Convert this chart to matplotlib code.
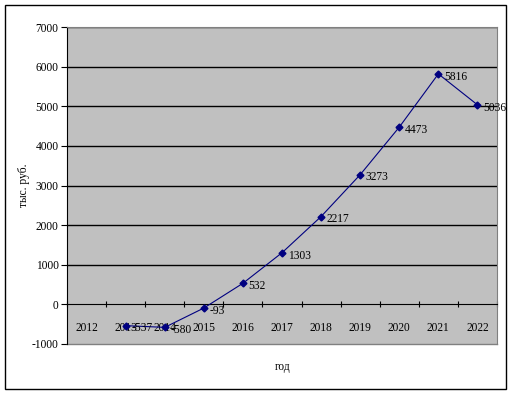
import matplotlib
matplotlib.use("Agg")
import matplotlib.pyplot as plt
from matplotlib.patches import Rectangle
import numpy as np

years = ["2012", "2013", "2014", "2015", "2016", "2017", "2018", "2019", "2020", "2021", "2022"]
values = [np.nan, -537, -580, -93, 532, 1303, 2217, 3273, 4473, 5816, 5036]
labels = ["", "-537", "-580", "-93", "532", "1303", "2217", "3273", "4473", "5816", "5036"]
yticks = [-1000, 0, 1000, 2000, 3000, 4000, 5000, 6000, 7000]

plt.rcParams['font.family'] = ['Liberation Serif', 'DejaVu Serif']
fs = 8.3

fig = plt.figure(figsize=(5.10, 3.94), dpi=100)
fig.patches.append(Rectangle((5/510, 1-389/394), 501/510, 384/394, transform=fig.transFigure,
                             fill=False, edgecolor='black', linewidth=1.0))
ax = fig.add_axes([67/510, 1-344/394, 430/510, 317/394])
ax.set_facecolor('#C0C0C0')

x = np.arange(len(years))
ax.set_xlim(-0.5, len(years) - 0.5)
ax.set_ylim(-1000, 7000)

for yv in yticks[2:]:
    ax.axhline(yv, color='black', linewidth=1.0, zorder=1)

ax.plot(x, values, color='#000080', linewidth=0.8, marker='D', markersize=3.5,
        markerfacecolor='#000080', markeredgecolor='#000080', zorder=3)
for xi, v, lab in zip(x, values, labels):
    if lab:
        ax.annotate(lab, (xi, v), xytext=(4, -2), textcoords='offset points',
                    fontsize=fs, va='center', ha='left', zorder=4)

ax.spines['bottom'].set_position(('data', 0))
ax.spines['bottom'].set_color('black')
ax.spines['left'].set_color('black')
for s in ['top', 'right']:
    ax.spines[s].set_color('#808080')

ax.set_xticks(x)
ax.set_xticklabels(years, fontsize=fs)
ax.tick_params(axis='x', which='major', length=0, pad=13)
ax.set_xticks(np.arange(-0.5, len(years)), minor=True)
ax.tick_params(axis='x', which='minor', length=4, direction='inout', width=0.8)

ax.set_yticks(yticks)
ax.set_yticklabels([str(v) for v in yticks], fontsize=fs)
ax.tick_params(axis='y', length=4, direction='out', width=0.8, pad=2)

# plot-area bottom border
ax.plot([0, 1], [0, 0], transform=ax.transAxes, color='#808080', linewidth=1.0, clip_on=False)

fig.text(24/510, 1-185/394, "тыс. руб.", rotation=90, fontsize=fs, ha='center', va='center')
fig.text(283/510, 1-367/394, "год", fontsize=fs, ha='center', va='center')

fig.savefig("out.png", dpi=100)
